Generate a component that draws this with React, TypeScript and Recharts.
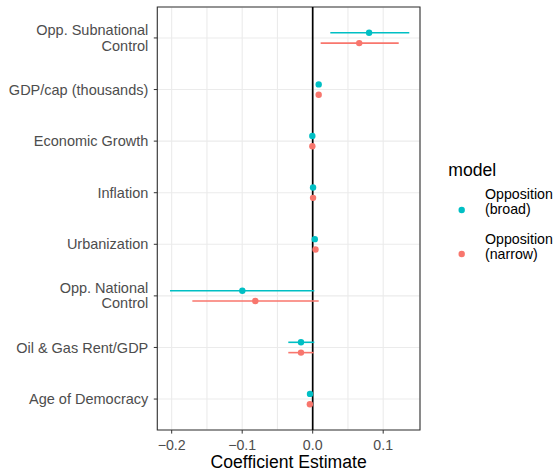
import React from 'react';
import {
  ScatterChart, Scatter, XAxis, YAxis, CartesianGrid, ReferenceLine, ReferenceArea, ErrorBar, Legend,
} from 'recharts';

const categories = [
  'Opp. Subnational\nControl',
  'GDP/cap (thousands)',
  'Economic Growth',
  'Inflation',
  'Urbanization',
  'Opp. National\nControl',
  'Oil & Gas Rent/GDP',
  'Age of Democracy',
];

const broadEst = [0.080, 0.0085, -0.0005, 0.0005, 0.003, -0.0998, -0.0166, -0.0038];
const broadLo = [0.025, 0.0068, -0.0015, -0.0005, 0.0015, -0.2024, -0.0346, -0.0052];
const broadHi = [0.137, 0.0102, 0.0005, 0.0015, 0.0047, 0.0023, 0.0023, -0.0024];

const narrowEst = [0.066, 0.0085, -0.0005, 0.0005, 0.004, -0.0814, -0.0166, -0.004];
const narrowLo = [0.0113, 0.0068, -0.0015, -0.0005, 0.0025, -0.1707, -0.0346, -0.0054];
const narrowHi = [0.122, 0.0102, 0.0005, 0.0015, 0.0055, 0.0085, 0.0014, -0.0026];

const modelNames = ['Opposition\n(broad)', 'Opposition\n(narrow)'];
const modelColors = ['#00BFC4', '#F8766D'];

const xTicks = [-0.2, -0.15, -0.1, -0.05, 0, 0.05, 0.1];
const xMajor = [-0.2, -0.1, 0, 0.1];
const xDomain = [-0.2204, 0.1522];
const yTicks = [1, 2, 3, 4, 5, 6, 7, 8];
const yDomain = [0.4, 8.6];
const dodge = 0.1;

const buildSeries = (est: number[], lo: number[], hi: number[], offset: number) =>
  est.map((v, i) => ({
    x: v,
    y: i + 1 + offset,
    err: [v - lo[i], hi[i] - v],
  }));

const broadData = buildSeries(broadEst, broadLo, broadHi, -dodge);
const narrowData = buildSeries(narrowEst, narrowLo, narrowHi, dodge);

const FONT = '"Liberation Sans", Arial, Helvetica, sans-serif';

const fmtX = (v: number) => (v < 0 ? '\u2212' + Math.abs(v).toFixed(1) : v.toFixed(1));

const XTick = (props: any) => {
  const { x, y, payload } = props;
  const v = payload.value;
  if (!xMajor.some((m) => Math.abs(m - v) < 1e-9)) return null;
  return (
    <g>
      <line x1={x} x2={x} y1={y} y2={y + 3.6} stroke="#333333" strokeWidth={1} />
      <text x={x} y={y + 19.5} textAnchor="middle" fill="#4D4D4D" fontSize={14.2} fontFamily={FONT}>
        {fmtX(v)}
      </text>
    </g>
  );
};

const YTick = (props: any) => {
  const { x, y, payload } = props;
  const label = categories[Math.round(payload.value) - 1] || '';
  const lines = label.split('\n');
  const starts = lines.length === 1 ? [5.2] : [-2.8, 12.6];
  return (
    <g>
      {lines.map((ln, i) => (
        <text key={i} x={x} y={y + starts[i]} textAnchor="end" fill="#4D4D4D" fontSize={14.5} fontFamily={FONT}>
          {ln}
        </text>
      ))}
    </g>
  );
};

const Dot = (color: string) => (props: any) => {
  const { cx, cy } = props;
  return <circle cx={cx} cy={cy} r={3.2} fill={color} />;
};

const LegendContent = () => (
  <svg width={115} height={125} style={{ display: 'block' }}>
    <text x={8.3} y={26} fontSize={17.6} fill="#000" fontFamily={FONT}>model</text>
    {modelNames.map((name, i) => {
      const base = i === 0 ? 49.3 : 94.3;
      const dotY = i === 0 ? 60 : 104;
      return (
        <g key={name}>
          <circle cx={21.7} cy={dotY} r={3.2} fill={modelColors[i]} />
          {name.split('\n').map((ln, j) => (
            <text key={j} x={45} y={base + j * 15} fontSize={14.2} fill="#000" fontFamily={FONT}>
              {ln}
            </text>
          ))}
        </g>
      );
    })}
  </svg>
);

export default function App() {
  return (
    <div style={{ position: 'absolute', left: 0, top: 0, width: 555, height: 475, background: '#fff', fontFamily: FONT }}>
      <ScatterChart width={555} height={475} margin={{ top: 7, right: 135, bottom: 0, left: 0 }}>
        <CartesianGrid stroke="#EBEBEB" strokeWidth={1.1} />
        <XAxis
          type="number"
          dataKey="x"
          domain={xDomain}
          ticks={xTicks}
          allowDataOverflow
          axisLine={false}
          tickLine={false}
          tickSize={0}
          tickMargin={0}
          height={45}
          tick={<XTick />}
          interval={0}
          label={{ value: 'Coefficient Estimate', position: 'insideBottom', offset: 7, fill: '#000', fontSize: 17.6, fontFamily: FONT }}
        />
        <YAxis
          type="number"
          dataKey="y"
          domain={yDomain}
          ticks={yTicks}
          reversed
          allowDataOverflow
          width={157.3}
          axisLine={false}
          tickLine={{ stroke: '#333333', strokeWidth: 1 }}
          tickSize={3.5}
          tickMargin={5.5}
          tick={<YTick />}
          interval={0}
        />
        <ReferenceLine x={0} stroke="#000000" strokeWidth={1.7} />
        <Scatter data={broadData} fill={modelColors[0]} shape={Dot(modelColors[0])} isAnimationActive={false}>
          <ErrorBar dataKey="err" direction="x" width={0} stroke={modelColors[0]} strokeWidth={1.6} />
        </Scatter>
        <Scatter data={narrowData} fill={modelColors[1]} shape={Dot(modelColors[1])} isAnimationActive={false}>
          <ErrorBar dataKey="err" direction="x" width={0} stroke={modelColors[1]} strokeWidth={1.6} />
        </Scatter>
        <ReferenceArea
          x1={xDomain[0]}
          x2={xDomain[1]}
          y1={yDomain[0]}
          y2={yDomain[1]}
          fill="none"
          stroke="#333333"
          strokeWidth={1.1}
          ifOverflow="visible"
        />
        <Legend
          layout="vertical"
          align="center"
          verticalAlign="middle"
          content={<LegendContent />}
          wrapperStyle={{ left: 440, top: 150, width: 115, height: 125 }}
        />
      </ScatterChart>
    </div>
  );
}
